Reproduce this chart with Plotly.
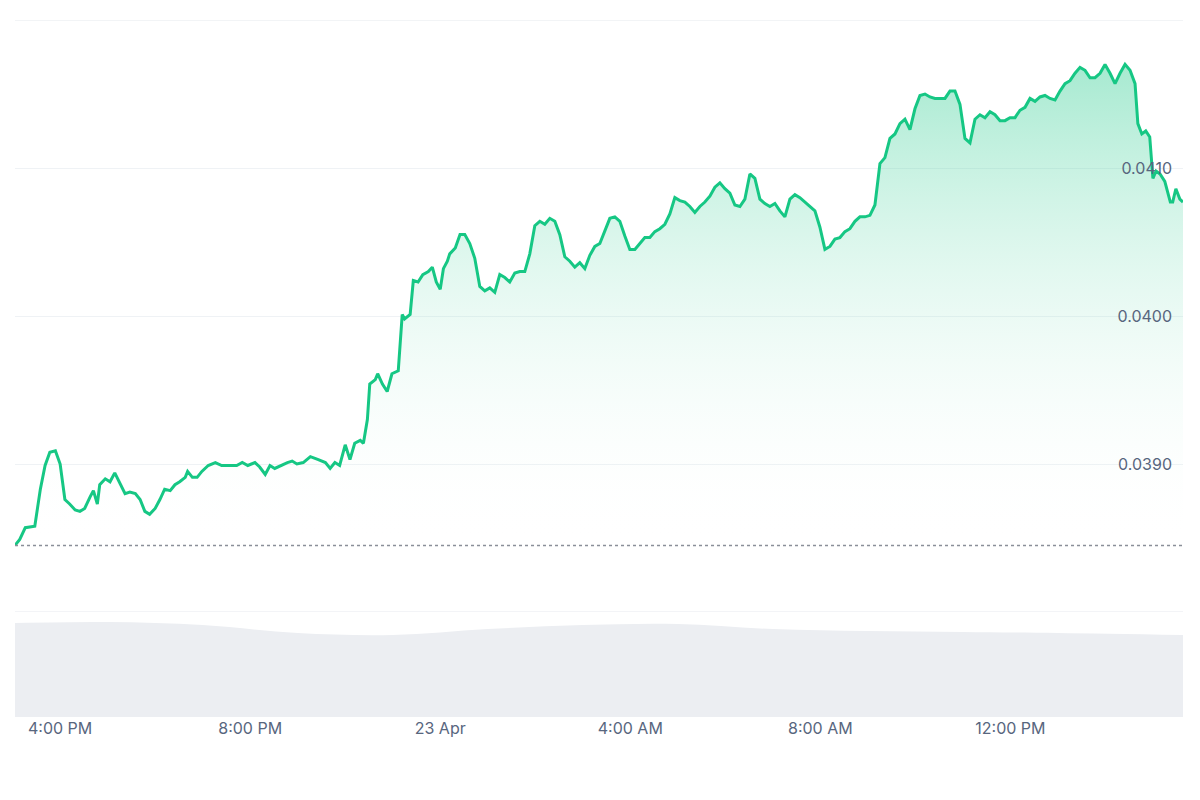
import plotly.graph_objects as go
import pandas as pd

T0 = pd.Timestamp("2024-04-22 15:00")

# (minutes after 15:00, price)
seg1 = [(3,.03845),(9,.03849),(16,.03857),(24,.03858),(28,.03858),(35,.03883),(41,.03899),(47,.03908),(54,.03909),(60,.03900),
(66,.03876),(72,.03873),(79,.03869),(85,.03868),(91,.03870),(98,.03878),(102,.03882),(107,.03873),(110,.03886),(117,.03890),
(123,.03888),(129,.03894),(136,.03886),(142,.03880),(148,.03881),(155,.03880),(161,.03876),(167,.03868),(173,.03866),(180,.03870),
(186,.03876),(192,.03883),(199,.03882),(205,.03886),(211,.03888),(218,.03891),(221,.03895),(227,.03891),(233,.03891),(239,.03895),
(247,.03899),(256,.03901),(264,.03899),(275,.03899),(283,.03899),(290,.03901),(297,.03899),(306,.03901),(312,.03898),(319,.03893),
(325,.03899),(331,.03897),(338,.03899),(347,.03901),(353,.03902),(359,.03900),(367,.03901),(376,.03905),(386,.03903),(395,.03901),
(401,.03897),(407,.03901),(413,.03899),(420,.03913),(426,.03903),(432,.03914),(439,.03916),(443,.03914),(448,.03930),(451,.03954),
(458,.03957),(461,.03961),(467,.03954),(473,.03949),(479,.03961),(487,.03963),(492,.04001),(495,.03998),(502,.04001),(506,.04024),
(512,.04023),(518,.04028),(525,.04030),(530,.04033),(535,.04023),(540,.04018),(544,.04032),(549,.04037),(552,.04042),(559,.04046),
(565,.04055)]

seg2_start_min = 571
seg2_step = "379s"
seg2 = [.04055,.04049,.04039,.04020,.04017,.04019,.04016,.04028,.04026,.04023,.04029,.04030,.04030,.04042,.04061,.04064,.04062,.04066,
.04064,.04055,.04040,.04037,.04033,.04036,.04032,.04041,.04047,.04049,.04057,.04066,.04067,.04064,.04054,.04045,.04045,.04049,.04053,
.04053,.04057,.04059,.04062,.04069,.04080,.04078,.04077,.04074,.04070,.04074,.04077,.04081,.04087,.04090,.04086,.04083,.04075,.04074,
.04079,.04096,.04093,.04079,.04076,.04074,.04076,.04071,.04067,.04079,.04082,.04080,.04077,.04074,.04071,.04060,.04045,.04047,.04052,
.04053,.04057,.04059,.04064,.04067,.04067,.04068,.04075,.04103,.04107,.04120,.04123,.04130,.04133,.04126,.04140,.04149,.04150,.04148,
.04147,.04147,.04147,.04152,.04152,.04143,.04120,.04117,.04133,.04136,.04134,.04138,.04136,.04132,.04132,.04134,.04134,.04139,.04141,
.04147,.04145,.04148,.04149,.04147,.04146,.04152,.04157,.04159,.04164,.04168,.04166,.04161,.04161,.04164,.04170,.04164,.04157,.04164,
.04170,.04166,.04157]

seg3 = [(1421,.04130),(1426,.04123),(1431,.04125),(1436,.04121),(1440,.04093),(1444,.04098),(1449,.04096),(1455,.04091),(1462,.04077),
(1465,.04077),(1469,.04086),(1474,.04079),(1478,.04077)]

# volume (relative) at minutes
vol_min = [3, 120, 240, 360, 480, 600, 720, 840, 960, 1080, 1200, 1320, 1478]
vol_val = [94, 95, 92, 84, 82, 88, 92, 93, 88, 86, 85, 84, 82]

y_ticks = [0.038, 0.039, 0.040, 0.041, 0.042]
y_text = ["", "0.0390", "0.0400", "0.0410", ""]
x_ticks = ["2024-04-22 16:00", "2024-04-22 20:00", "2024-04-23 00:00", "2024-04-23 04:00", "2024-04-23 08:00", "2024-04-23 12:00"]
x_text = ["4:00 PM", "8:00 PM", "23 Apr", "4:00 AM", "8:00 AM", "12:00 PM"]
open_price = 0.03845

t1 = [T0 + pd.Timedelta(minutes=m) for m, _ in seg1]
t2 = list(pd.date_range(T0 + pd.Timedelta(minutes=seg2_start_min), periods=len(seg2), freq=seg2_step))
t3 = [T0 + pd.Timedelta(minutes=m) for m, _ in seg3]
times = t1 + t2 + t3
prices = [p for _, p in seg1] + seg2 + [p for _, p in seg3]
vt = [T0 + pd.Timedelta(minutes=m) for m in vol_min]

fig = go.Figure()
fig.add_trace(go.Scatter(x=times, y=[open_price]*len(times), mode="lines", line=dict(width=0), hoverinfo="skip", showlegend=False))
fig.add_trace(go.Scatter(x=times, y=prices, mode="lines", line=dict(color="#16c784", width=3), fill="tonexty",
                         fillgradient=dict(type="vertical", colorscale=[[0, "rgba(255,255,255,0)"], [1, "rgba(22,199,132,0.38)"]]),
                         showlegend=False))
fig.add_trace(go.Scatter(x=vt, y=vol_val, mode="lines", line=dict(width=0, shape="spline"), fill="tozeroy",
                         fillcolor="#eceef2", yaxis="y2", showlegend=False))

start = T0 + pd.Timedelta(minutes=3)
end = T0 + pd.Timedelta(minutes=1478)
fig.add_shape(type="line", xref="paper", x0=0, x1=1, yref="y", y0=open_price, y1=open_price,
              line=dict(color="#8a8f99", width=1.5, dash="dot"))
for yv in (0.038, 0.042):
    fig.add_shape(type="line", xref="paper", x0=0, x1=1, yref="y", y0=yv, y1=yv,
                  line=dict(color="#e6e9ee", width=1), layer="below")

fig.update_layout(
    width=1200, height=800, margin=dict(l=7, r=25, t=12, b=91),
    paper_bgcolor="white", plot_bgcolor="white",
    xaxis=dict(range=[start, end], tickvals=x_ticks, ticktext=x_text, showgrid=False, zeroline=False, anchor="y2",
               tickfont=dict(family="Inter, Roboto, sans-serif", size=16, color="#58667e"), ticks="", ticklen=0),
    yaxis=dict(domain=[0.1506, 1], range=[0.0380, 0.0420], tickvals=y_ticks, ticktext=y_text, side="right",
               ticklabelposition="inside", ticklabelstandoff=8, showgrid=True, gridcolor="#eff2f5", gridwidth=1, zeroline=False,
               tickfont=dict(family="Inter, Roboto, sans-serif", size=16, color="#58667e")),
    yaxis2=dict(domain=[0, 0.1506], range=[0, 105], showgrid=False, showticklabels=False, zeroline=False),
)
fig.write_html("out.html")
